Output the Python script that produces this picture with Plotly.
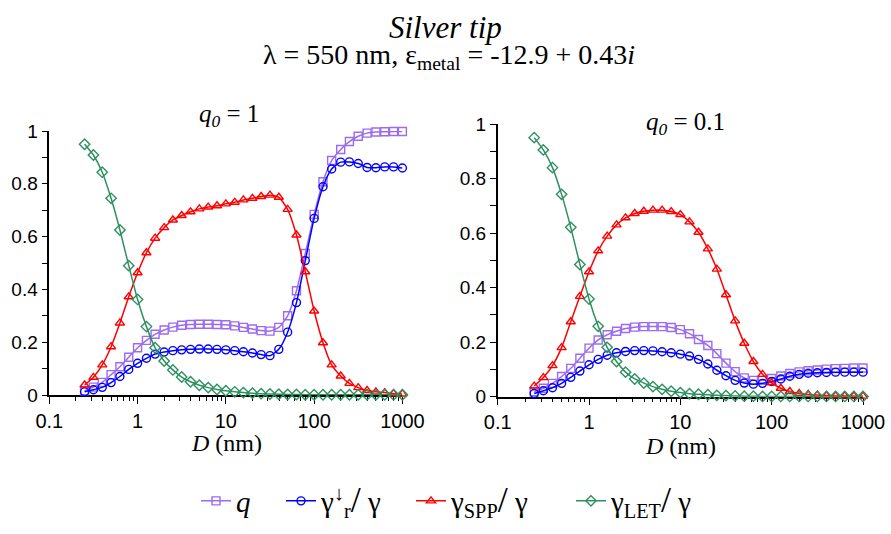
import plotly.graph_objects as go

# Tip–molecule distance D (nm), 10 points per decade
D_nm = [0.251, 0.316, 0.398, 0.501, 0.631, 0.794, 1.0, 1.26, 1.58, 2.0,
        2.51, 3.16, 3.98, 5.01, 6.31, 7.94, 10.0, 12.6, 15.8, 20.0,
        25.1, 31.6, 39.8, 50.1, 63.1, 79.4, 100.0, 126.0, 158.0, 200.0,
        251.0, 316.0, 398.0, 501.0, 631.0, 794.0, 1000.0]

# ---- q0 = 1 ----
q_q1 = [0.016, 0.030, 0.048, 0.077, 0.107, 0.143, 0.179, 0.207, 0.230, 0.246,
        0.257, 0.264, 0.267, 0.268, 0.268, 0.267, 0.266, 0.262, 0.256, 0.250,
        0.244, 0.242, 0.256, 0.300, 0.395, 0.536, 0.684, 0.808, 0.888, 0.930,
        0.960, 0.980, 0.992, 0.996, 0.997, 0.998, 0.998]
gr_q1 = [0.012, 0.020, 0.029, 0.047, 0.070, 0.097, 0.120, 0.139, 0.155, 0.163,
         0.168, 0.171, 0.173, 0.174, 0.174, 0.173, 0.171, 0.168, 0.164, 0.159,
         0.153, 0.149, 0.173, 0.238, 0.350, 0.509, 0.669, 0.789, 0.856, 0.882,
         0.883, 0.877, 0.862, 0.861, 0.864, 0.864, 0.860]
spp_q1 = [0.038, 0.067, 0.114, 0.183, 0.273, 0.372, 0.463, 0.539, 0.594, 0.634,
          0.663, 0.680, 0.694, 0.705, 0.712, 0.717, 0.724, 0.730, 0.739, 0.745,
          0.752, 0.757, 0.749, 0.703, 0.606, 0.467, 0.318, 0.198, 0.114, 0.072,
          0.044, 0.028, 0.017, 0.012, 0.009, 0.005, 0.004]
let_q1 = [0.950, 0.909, 0.844, 0.745, 0.625, 0.490, 0.362, 0.259, 0.179, 0.129,
          0.095, 0.068, 0.050, 0.037, 0.028, 0.021, 0.016, 0.012, 0.009, 0.007,
          0.005, 0.004, 0.003, 0.002, 0.002, 0.001, 0.001, 0.001, 0.001, 0.001,
          0.001, 0.001, 0.001, 0.001, 0.001, 0.001, 0.001]

# ---- q0 = 0.1 ----
q_q01 = [0.018, 0.031, 0.049, 0.074, 0.104, 0.141, 0.178, 0.208, 0.227, 0.240,
         0.250, 0.255, 0.257, 0.257, 0.257, 0.254, 0.246, 0.231, 0.210, 0.188,
         0.158, 0.123, 0.092, 0.069, 0.060, 0.060, 0.067, 0.076, 0.085, 0.091,
         0.095, 0.098, 0.101, 0.103, 0.104, 0.105, 0.105]
gr_q01 = [0.012, 0.022, 0.033, 0.049, 0.071, 0.094, 0.117, 0.137, 0.152, 0.161,
          0.166, 0.169, 0.169, 0.168, 0.165, 0.161, 0.156, 0.149, 0.137, 0.120,
          0.097, 0.077, 0.060, 0.050, 0.046, 0.049, 0.056, 0.065, 0.075, 0.082,
          0.086, 0.088, 0.089, 0.090, 0.090, 0.090, 0.090]
spp_q01 = [0.039, 0.070, 0.114, 0.180, 0.275, 0.368, 0.458, 0.535, 0.589, 0.630,
           0.656, 0.672, 0.680, 0.684, 0.684, 0.679, 0.668, 0.641, 0.603, 0.542,
           0.468, 0.374, 0.278, 0.196, 0.129, 0.082, 0.051, 0.031, 0.019, 0.012,
           0.008, 0.006, 0.004, 0.003, 0.003, 0.002, 0.002]
let_q01 = [0.950, 0.905, 0.840, 0.742, 0.621, 0.485, 0.358, 0.258, 0.181, 0.129,
           0.090, 0.065, 0.050, 0.037, 0.027, 0.020, 0.015, 0.011, 0.009, 0.007,
           0.005, 0.004, 0.003, 0.002, 0.002, 0.001, 0.001, 0.001, 0.001, 0.001,
           0.001, 0.001, 0.001, 0.001, 0.001, 0.001, 0.001]

SLASH = "<span style='font-size:36px'>/</span>"
series_names = ["<i>q</i>",
                "γ<sup>↓</sup><sub>r</sub>" + SLASH + " γ",
                "γ<sub>SPP</sub>" + SLASH + " γ",
                "γ<sub>LET</sub>" + SLASH + " γ"]
colors = ["#9B6CF0", "#0000FF", "#FF0000", "#2E9060"]
symbols = ["square-open", "circle-open", "triangle-up-open", "diamond-open"]

x_ticks = [0.1, 1, 10, 100, 1000]
x_tick_text = ["0.1", "1", "10", "100", "1000"]
y_ticks = [0, 0.2, 0.4, 0.6, 0.8, 1]
y_tick_text = ["0", "0.2", "0.4", "0.6", "0.8", "1"]

W, H = 891, 534
SERIF = "Liberation Serif"
SANS = "Liberation Sans"

fig = go.Figure()

panels = [
    ("x", "y", [q_q1, gr_q1, spp_q1, let_q1], True),
    ("x2", "y2", [q_q01, gr_q01, spp_q01, let_q01], False),
]
legend_ids = ["legend", "legend2", "legend3", "legend4"]
for xa, ya, data, show in panels:
    for i, vals in enumerate(data):
        fig.add_trace(go.Scatter(
            x=D_nm, y=vals, xaxis=xa, yaxis=ya,
            mode="lines+markers",
            name=series_names[i],
            line=dict(color=colors[i], width=1.5, shape="spline", smoothing=0.6),
            marker=dict(symbol=symbols[i], size=8, color=colors[i],
                        line=dict(color=colors[i], width=1.4)),
            cliponaxis=False,
            showlegend=show,
            legend=legend_ids[i],
        ))

minor_x = [m * 10 ** e for e in range(-1, 3) for m in range(2, 10)]
minor_y = [0.1, 0.3, 0.5, 0.7, 0.9]

def xaxis(domain, anchor):
    return dict(domain=domain, anchor=anchor, type="log", range=[-1, 3],
                tickmode="array", tickvals=x_ticks, ticktext=x_tick_text,
                ticks="outside", ticklen=7, tickwidth=1.2, tickcolor="black",
                showline=True, linecolor="black", linewidth=1.5,
                showgrid=False, zeroline=False, layer="below traces",
                automargin=False,
                tickfont=dict(family=SANS, size=20, color="black"),
                minor=dict(tickmode="array", tickvals=minor_x, ticks="outside",
                           ticklen=4, tickwidth=1, tickcolor="black", showgrid=False))

def yaxis(domain, anchor):
    return dict(domain=domain, anchor=anchor, range=[0, 1],
                tickmode="array", tickvals=y_ticks, ticktext=y_tick_text,
                ticks="outside", ticklen=6, tickwidth=1.2, tickcolor="black",
                showline=True, linecolor="black", linewidth=1.5,
                showgrid=False, zeroline=False, layer="below traces",
                automargin=False,
                tickfont=dict(family=SANS, size=19, color="black"),
                minor=dict(tickmode="array", tickvals=minor_y, ticks="outside",
                           ticklen=6, tickwidth=1, tickcolor="black", showgrid=False))

fig.update_layout(
    width=W, height=H,
    margin=dict(l=0, r=0, t=0, b=0, autoexpand=False),
    paper_bgcolor="white", plot_bgcolor="white",
    xaxis=xaxis([49.3 / W, 402.4 / W], "y"),
    yaxis=yaxis([1 - 395 / H, 1 - 131 / H], "x"),
    xaxis2=xaxis([497.7 / W, 863 / W], "y2"),
    yaxis2=yaxis([1 - 396.7 / H, 1 - 124 / H], "x2"),
    font=dict(family=SERIF, color="black"),
)

legend_x = [196, 281, 411, 571]
for lid, lx in zip(legend_ids, legend_x):
    fig.update_layout({lid: dict(
        x=lx / W, xanchor="left", y=1 - 501 / H, yanchor="middle",
        orientation="h", bgcolor="rgba(0,0,0,0)", borderwidth=0,
        itemwidth=30, tracegroupgap=0,
        font=dict(family=SERIF, size=29, color="black"),
    )})

annotations = [
    dict(text="<i>Silver tip</i>", x=445 / W, y=1 - 27 / H, size=31),
    dict(text="λ = 550 nm, ε<sub>metal</sub> = -12.9 + 0.43<i>i</i>",
         x=449 / W, y=1 - 56 / H, size=28),
    dict(text="<i>q<sub>0</sub></i> = 1", x=229 / W, y=1 - 116 / H, size=25),
    dict(text="<i>q<sub>0</sub></i> = 0.1", x=685 / W, y=1 - 123 / H, size=25),
    dict(text="<i>D</i> (nm)", x=226 / W, y=1 - 443 / H, size=24),
    dict(text="<i>D</i> (nm)", x=680 / W, y=1 - 446 / H, size=24),
]
for a in annotations:
    fig.add_annotation(text=a["text"], x=a["x"], y=a["y"], xref="paper", yref="paper",
                       xanchor="center", yanchor="middle", showarrow=False,
                       font=dict(family=SERIF, size=a["size"], color="black"))

fig.write_html("out.html")
